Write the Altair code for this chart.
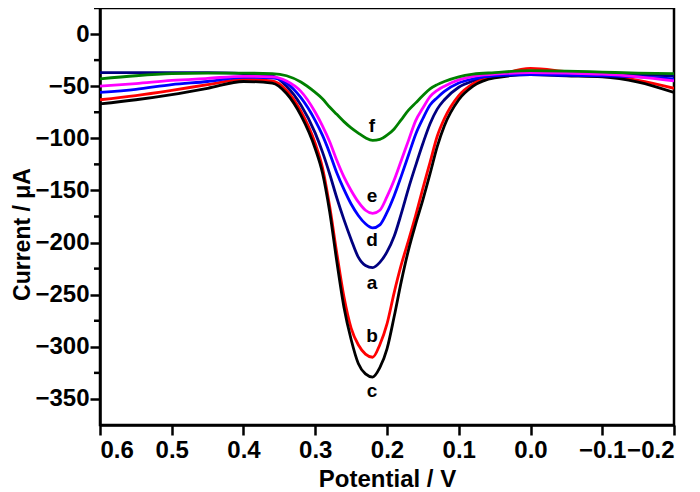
import altair as alt
import pandas as pd

potential = [0.6, 0.55, 0.5, 0.45, 0.4, 0.36, 0.34, 0.32, 0.30, 0.29,
             0.28, 0.27, 0.26, 0.25, 0.24, 0.23, 0.22, 0.21, 0.20, 0.19,
             0.18, 0.17, 0.16, 0.15, 0.14, 0.13, 0.12, 0.10, 0.08, 0.05,
             0.0, -0.05, -0.1, -0.15, -0.2]

curve_a = [-37, -37, -37, -37, -38, -40, -50, -68, -95, -113,
           -134, -157, -178, -197, -214, -222, -224, -219, -209, -194,
           -172, -148, -126, -105, -86, -72, -63, -51, -45, -40,
           -38, -38, -38, -39, -40]
curve_b = [-63, -59, -54, -48.5, -43.5, -45, -54, -74, -105, -128,
           -165, -210, -252, -282, -298, -307, -310, -298, -278, -248,
           -221, -198, -174, -148, -123, -98, -81, -59, -47.5, -41,
           -33, -36, -39, -44.5, -52]
curve_c = [-67, -63, -58, -52, -45.5, -47, -57, -78, -110, -133,
           -170, -218, -262, -293, -316, -326, -329, -320, -302, -271,
           -237, -207, -182, -159, -134, -108, -88, -63, -50, -42,
           -39, -40, -41, -46, -56]
curve_d = [-56, -53, -48.5, -45.5, -41.5, -42, -47, -61, -83, -97,
           -114, -133, -149, -163, -174, -182, -186, -183, -171, -155,
           -136, -116, -96, -81, -68, -61, -55, -47, -43, -40,
           -39, -39.5, -40, -41, -43]
curve_e = [-50, -47.5, -44.5, -42.5, -40.5, -41, -45, -55, -75, -88,
           -103, -121, -137, -150, -161, -169, -172, -169, -156, -140,
           -121, -102, -83, -71, -60, -54, -50, -44, -40.5, -38.5,
           -37, -37.5, -38.5, -41, -45]
curve_f = [-43, -40, -38, -37.5, -37.5, -38, -40, -46, -56, -62,
           -70, -77, -84, -90, -95, -99.5, -102, -101, -97, -91,
           -82, -73, -66, -59, -52.5, -48.5, -45.5, -41, -38.5, -37,
           -35, -35.5, -36.5, -37.5, -38]

series_names = ["a", "b", "c", "d", "e", "f"]
series_colors = ["#000080", "#FF0000", "#000000", "#0000FF", "#FF00FF", "#008000"]

label_text = ["f", "e", "d", "a", "b", "c"]
label_x = [0.221, 0.221, 0.221, 0.221, 0.221, 0.221]
label_y = [-88, -155, -198, -239, -290, -342]

x_ticks = [0.6, 0.55, 0.5, 0.45, 0.4, 0.35, 0.3, 0.25, 0.2, 0.15, 0.1, 0.05,
           0.0, -0.05, -0.1, -0.15, -0.2]
y_major_ticks = [0, -50, -100, -150, -200, -250, -300, -350]
y_minor_ticks = [25, -25, -75, -125, -175, -225, -275, -325]

rows = []
for name, ys in zip(series_names, [curve_a, curve_b, curve_c, curve_d, curve_e, curve_f]):
    for xv, yv in zip(potential, ys):
        rows.append({"series": name, "potential": xv, "current": yv})
df = pd.DataFrame(rows)
labels_df = pd.DataFrame({"text": label_text, "potential": label_x, "current": label_y})
minor_df = pd.DataFrame({"current": y_minor_ticks})

FONT = "Liberation Sans"

x_scale = alt.Scale(domain=[-0.2, 0.6], reverse=True, nice=False, zero=False)
y_scale = alt.Scale(domain=[-375, 25], nice=False, zero=False)

x_axis = alt.Axis(
    title="Potential / V", values=x_ticks, format=".1f",
    labelExpr="round(datum.value*100) % 10 == 0 ? datum.label : ''",
    tickSize={"condition": {"test": "round(datum.value*100) % 10 == 0", "value": 10}, "value": 6},
    labelPadding=3, titlePadding=5, grid=False, labelOverlap=False,
)
y_axis = alt.Axis(
    title="Current / μA", values=y_major_ticks, format="d", tickSize=10,
    labelPadding=1, grid=False, labelOverlap=False,
    titleX=-71, titleY=226, titleAngle=-90, titleAlign="center", titleBaseline="alphabetic",
    titleFontSize=23,
)

lines = alt.Chart(df).mark_line(strokeWidth=2.8, interpolate="monotone", clip=True).encode(
    x=alt.X("potential:Q", scale=x_scale, axis=x_axis),
    y=alt.Y("current:Q", scale=y_scale, axis=y_axis),
    color=alt.Color("series:N", scale=alt.Scale(domain=series_names, range=series_colors), legend=None),
    detail="series:N",
)

minor_ticks = alt.Chart(minor_df).mark_rule(color="black", strokeWidth=2.5).encode(
    y=alt.Y("current:Q", scale=y_scale),
    x=alt.value(0),
    x2=alt.value(-6),
)

texts = alt.Chart(labels_df).mark_text(
    font=FONT, fontSize=19, fontWeight="bold", color="black", align="center", baseline="middle"
).encode(
    x=alt.X("potential:Q", scale=x_scale),
    y=alt.Y("current:Q", scale=y_scale),
    text="text:N",
)

chart = alt.layer(lines, minor_ticks, texts).properties(
    width=574, height=417,
    autosize=alt.AutoSizeParams(type="none"),
    padding={"left": 92, "top": 0, "right": 10, "bottom": 66},
).configure_view(
    stroke="black", strokeWidth=2.5
).configure_axis(
    domainColor="black", domainWidth=2.5, tickColor="black", tickWidth=2.5,
    labelFont=FONT, labelFontSize=24, labelFontWeight="bold", labelColor="black",
    titleFont=FONT, titleFontSize=24, titleFontWeight="bold", titleColor="black",
)

chart.save("out.html", embed_options={"renderer": "svg", "actions": False})
